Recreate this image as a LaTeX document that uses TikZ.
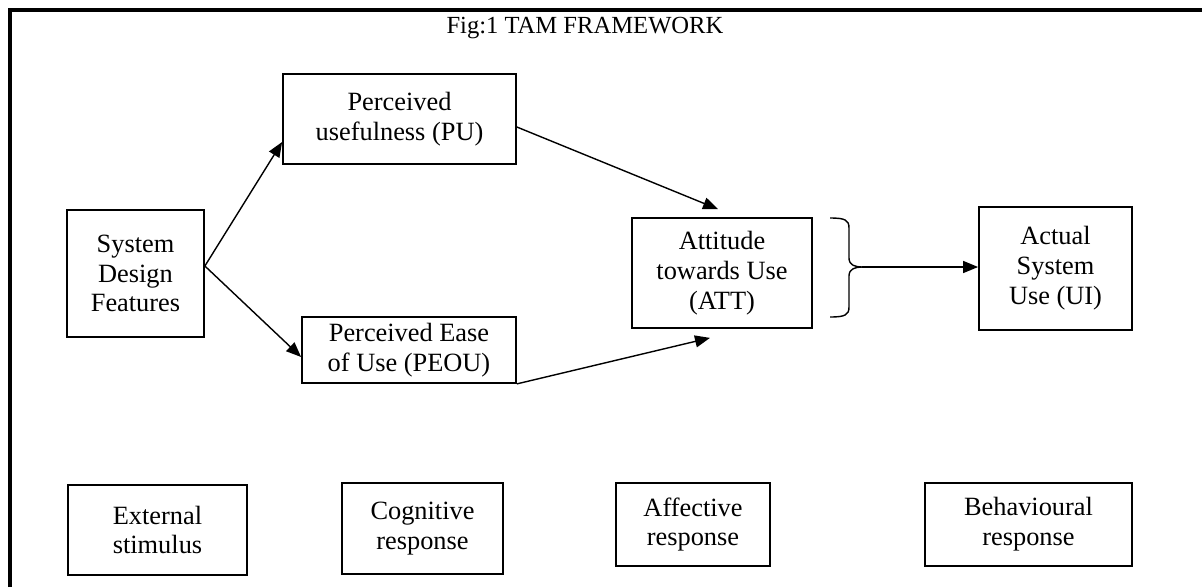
\documentclass[tikz,border=0pt]{standalone}
\usepackage{fontspec}
\setmainfont{Liberation Serif}
\usepackage{tikz}
\usetikzlibrary{arrows.meta}

\begin{document}
\begin{tikzpicture}
        % Define the styles for boxes and arrows
        \tikzstyle{tambox}=[draw, line width=1pt, align=center, inner sep=0pt, font=\fontsize{15}{17}\selectfont]
        \tikzstyle{tamarrow}=[line width=0.8pt, -{Triangle[length=0.3cm, width=0.24cm]}]

        \useasboundingbox (0,0) rectangle (24.04,-11.74);

        % Define the frame and the title
        \draw[line width=2.2pt] (0.2,-11.74) -- (0.2,-0.2) -- (24.04,-0.2);
        \node[font=\fontsize{14}{17}\selectfont] (title) at (11.7,-0.56) {Fig:1 TAM FRAMEWORK};

        % Define the model nodes
        \node[tambox, minimum width=2.74cm, minimum height=2.54cm] (sdf) at (2.71,-5.47) {System\\Design\\Features};
        \node[tambox, minimum width=4.66cm, minimum height=1.8cm] (pu) at (7.99,-2.38) {Perceived\\usefulness (PU)};
        \node[tambox, minimum width=4.28cm, minimum height=1.32cm] (peou) at (8.18,-7.0) {Perceived Ease\\of Use (PEOU)};
        \node[tambox, minimum width=3.6cm, minimum height=2.2cm] (att) at (14.44,-5.46) {Attitude\\towards Use\\(ATT)};
        \node[tambox, minimum width=3.06cm, minimum height=2.46cm] (ui) at (21.11,-5.37) {Actual\\System\\Use (UI)};

        % Define the response nodes
        \node[tambox, minimum width=3.58cm, minimum height=1.8cm] (ext) at (3.15,-10.6) {External\\stimulus};
        \node[tambox, minimum width=3.22cm, minimum height=1.82cm] (cog) at (8.45,-10.57) {Cognitive\\response};
        \node[tambox, minimum width=3.08cm, minimum height=1.66cm] (aff) at (13.86,-10.49) {Affective\\response};
        \node[tambox, minimum width=4.14cm, minimum height=1.66cm] (beh) at (20.57,-10.49) {Behavioural\\response};

        % Define the arrows
        \draw[tamarrow] ([yshift=0.15cm]sdf.east) -- ([yshift=-0.46cm]pu.west);
        \draw[tamarrow] ([yshift=0.15cm]sdf.east) -- ([yshift=-0.14cm]peou.west);
        \draw[tamarrow] ([yshift=-0.16cm]pu.east) -- ([xshift=-0.08cm,yshift=0.16cm]att.north);
        \draw[tamarrow] (peou.south east) -- ([xshift=-0.24cm,yshift=-0.18cm]att.south);

        % Define the brace and the arrow to actual use
        \coordinate (bt) at (17.24,-5.34);
        \draw[line width=0.8pt] (16.6,-4.36) .. controls (16.9,-4.36) and (16.98,-4.4) .. (16.98,-4.56) -- (16.98,-5.16) .. controls (16.98,-5.3) and (17.1,-5.34) .. (bt) .. controls (17.1,-5.34) and (16.98,-5.38) .. (16.98,-5.52) -- (16.98,-6.14) .. controls (16.98,-6.3) and (16.9,-6.34) .. (16.6,-6.34);
        \draw[tamarrow] (bt) -- (ui.west |- bt);
    \end{tikzpicture}
\end{document}
